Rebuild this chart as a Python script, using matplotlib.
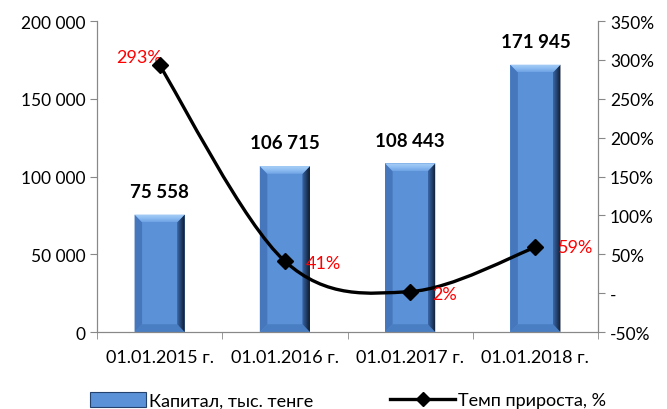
import numpy as np
import matplotlib
matplotlib.use("Agg")
import matplotlib.pyplot as plt
from matplotlib.path import Path
from matplotlib.patches import PathPatch, Patch, Polygon
from matplotlib.lines import Line2D
from matplotlib.ticker import FuncFormatter, MultipleLocator

plt.rcParams['font.family'] = ['Lato', 'DejaVu Sans']

# данные
dates = ["01.01.2015 г.", "01.01.2016 г.", "01.01.2017 г.", "01.01.2018 г."]
capital = [75558, 106715, 108443, 171945]
growth = [293, 41, 2, 59]
growth_labels = ["293%", "41%", "2%", "59%"]

fig = plt.figure(figsize=(6.67, 4.10), dpi=100)
ax = fig.add_axes([0.1454, 0.1878, 0.7512, 0.7585])
ax2 = ax.twinx()

x = np.arange(len(dates))
w = 0.4

# столбцы с "фаской"
bars = ax.bar(x, capital, width=w, color="#5A91D7", edgecolor="none", zorder=2)
right_cmap = matplotlib.colors.LinearSegmentedColormap.from_list(
    "r", ["#3A66A6", "#24426E", "#0E1828"])
top_cmap = matplotlib.colors.LinearSegmentedColormap.from_list(
    "t", ["#6EA3E4", "#8EBDF2", "#A9CFF7"])
bevel = 5000
for b in bars:
    x0, x1, h = b.get_x(), b.get_x() + b.get_width(), b.get_height()
    dx = b.get_width() * 0.15
    # левая грань
    ax.add_patch(Polygon([(x0, 0), (x0, h), (x0 + dx, h - bevel), (x0 + dx, bevel)],
                         closed=True, facecolor="#4677BC", edgecolor="none", zorder=2.2))
    # нижняя грань
    ax.add_patch(Polygon([(x0, 0), (x1, 0), (x1 - dx, bevel), (x0 + dx, bevel)],
                         closed=True, facecolor="#4A7EC3", edgecolor="none", zorder=2.2))
    # правая грань
    rp = Polygon([(x1, 0), (x1, h), (x1 - dx, h - bevel), (x1 - dx, bevel)],
                 closed=True, facecolor="none", edgecolor="none", zorder=2.3)
    ax.add_patch(rp)
    im = ax.imshow(np.linspace(0, 1, 50)[None, :], cmap=right_cmap, aspect="auto",
                   interpolation="bilinear", extent=[x1 - dx, x1, 0, h], zorder=2.3)
    im.set_clip_path(rp)
    # верхняя грань
    tp = Polygon([(x0, h), (x1, h), (x1 - dx, h - bevel), (x0 + dx, h - bevel)],
                 closed=True, facecolor="none", edgecolor="none", zorder=2.4)
    ax.add_patch(tp)
    im2 = ax.imshow(np.linspace(0, 1, 30)[:, None], cmap=top_cmap, aspect="auto", origin="lower",
                    interpolation="bilinear", extent=[x0, x1, h - bevel, h], zorder=2.4)
    im2.set_clip_path(tp)
for xi, v in zip(x, capital):
    ax.text(xi, v + 9500, f"{v:,}".replace(",", " "), ha="center", va="bottom",
            fontsize=13.5, fontweight="bold", color="black")

ax.set_xlim(-0.5, 3.5)
ax.set_ylim(0, 200000)
ax.yaxis.set_major_locator(MultipleLocator(50000))
ax.yaxis.set_major_formatter(FuncFormatter(lambda v, p: f"{int(v):,}".replace(",", " ")))
ax.set_xticks(x)
ax.set_xticklabels(dates)
ax.set_xticks(np.arange(-0.5, 4, 1), minor=True)
ax.tick_params(axis="x", which="major", length=0, labelsize=13, pad=12)
ax.tick_params(axis="x", which="minor", length=5, color="#888888")
ax.tick_params(axis="y", length=5, color="#888888", labelsize=12.5)

# сглаженная линия (кривые Безье по точкам)
ys = np.array(growth, dtype=float)
verts = [(x[0], ys[0])]
codes = [Path.MOVETO]
t = 1 / 6
for i in range(len(x) - 1):
    p0 = np.array([x[max(i - 1, 0)], ys[max(i - 1, 0)]])
    p1 = np.array([x[i], ys[i]])
    p2 = np.array([x[i + 1], ys[i + 1]])
    p3 = np.array([x[min(i + 2, len(x) - 1)], ys[min(i + 2, len(x) - 1)]])
    c1 = p1 + (p2 - p0) * t
    c2 = p2 - (p3 - p1) * t
    verts += [tuple(c1), tuple(c2), tuple(p2)]
    codes += [Path.CURVE4] * 3
ax2.add_patch(PathPatch(Path(verts, codes), facecolor="none", edgecolor="black", lw=2.4, zorder=3))
ax2.plot(x, growth, linestyle="none", marker="D", color="black", markersize=8, zorder=4)

offs = [(-0.16, 11), (0.17, -2), (0.18, -3), (0.18, 0)]
for xi, yi, lab, (dx, dy) in zip(x, growth, growth_labels, offs):
    ax2.text(xi + dx, yi + dy, lab, color="red", fontsize=13, ha="left" if dx > 0 else "center",
             va="center")

ax2.set_ylim(-50, 350)
ax2.yaxis.set_major_locator(MultipleLocator(50))
ax2.yaxis.set_major_formatter(FuncFormatter(lambda v, p: "-" if abs(v) < 1e-9 else f"{int(v)}%"))
ax2.tick_params(axis="y", length=5, color="#888888", labelsize=12.5)

for a in (ax, ax2):
    a.spines["top"].set_visible(False)
    for s in ("left", "right", "bottom"):
        a.spines[s].set_color("#888888")
ax.set_zorder(ax2.get_zorder() - 1)
ax.patch.set_visible(True)
ax2.patch.set_visible(False)

leg1 = fig.legend([Patch(facecolor="#5A91D7", edgecolor="#24426E", linewidth=0.8)],
                  ["Капитал, тыс. тенге"], loc="center left", bbox_to_anchor=(0.135, 0.022),
                  frameon=False, fontsize=13, handlelength=3.1, handleheight=0.9,
                  handletextpad=0.15, borderaxespad=0, borderpad=0)
leg2 = fig.legend([Line2D([0], [0], color="black", lw=2.4, marker="D", markersize=7)],
                  ["Темп прироста, %"], loc="center left", bbox_to_anchor=(0.585, 0.022),
                  frameon=False, fontsize=13, handlelength=3.6,
                  handletextpad=0.15, borderaxespad=0, borderpad=0)

fig.savefig("out.png", dpi=100)
